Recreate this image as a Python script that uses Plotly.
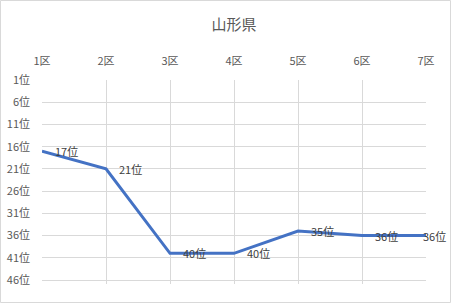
import plotly.graph_objects as go

categories = ["1区", "2区", "3区", "4区", "5区", "6区", "7区"]
ranks = [17, 21, 40, 40, 35, 36, 36]
ytick_vals = [1, 6, 11, 16, 21, 26, 31, 36, 41, 46]
ytick_text = [f"{v}位" for v in ytick_vals]
labels = [f"{v}位" for v in ranks]
title_text = "山形県"

W, H = 451, 303
L, R, T, B = 42, 25, 80, 19
pw, ph = W - L - R, H - T - B

font = "Noto Sans CJK JP, Noto Sans, sans-serif"
xs = list(range(len(categories)))

fig = go.Figure()
fig.add_trace(go.Scatter(
    x=xs, y=ranks, mode="lines",
    line=dict(color="#4472C4", width=3), cliponaxis=False,
    hoverinfo="skip"))

annotations = []
for i, (x, y, t) in enumerate(zip(xs, ranks, labels)):
    last = i == len(xs) - 1
    annotations.append(dict(
        x=x, y=y, xref="x", yref="y", text=t, showarrow=False,
        xanchor="left", yanchor="middle", xshift=(-5 if last else 11), yshift=0,
        font=dict(family=font, size=11, color="#404040")))

fig.update_layout(
    width=W, height=H, margin=dict(l=L, r=R, t=T, b=B, autoexpand=False),
    paper_bgcolor="white", plot_bgcolor="white", showlegend=False,
    title=dict(text=title_text, x=0.5, xref="paper", y=1 - 25 / H, yanchor="middle",
               font=dict(family=font, size=15, color="#595959")),
    xaxis=dict(side="top", range=[0, len(categories) - 1], tickmode="array",
               tickvals=xs, ticktext=categories, automargin=False,
               showgrid=True, gridcolor="#D9D9D9", gridwidth=1, zeroline=False,
               showline=False, ticks="", ticklabelstandoff=12,
               tickfont=dict(family=font, size=11, color="#595959")),
    yaxis=dict(range=[46.9, 1], tickmode="array", tickvals=ytick_vals, ticktext=ytick_text,
               automargin=False,
               showgrid=True, gridcolor="#D9D9D9", gridwidth=1, zeroline=False,
               showline=False, ticks="", ticklabelstandoff=11,
               tickfont=dict(family=font, size=11, color="#595959")),
    annotations=annotations,
    shapes=[dict(type="rect", xref="paper", yref="paper",
                 x0=(0.5 - L) / pw, x1=(W - 0.5 - L) / pw,
                 y0=(H - B - (H - 0.5)) / ph, y1=(H - B - 0.5) / ph,
                 line=dict(color="#D9D9D9", width=1), fillcolor="rgba(0,0,0,0)", layer="below")],
)

fig.write_html("out.html")
